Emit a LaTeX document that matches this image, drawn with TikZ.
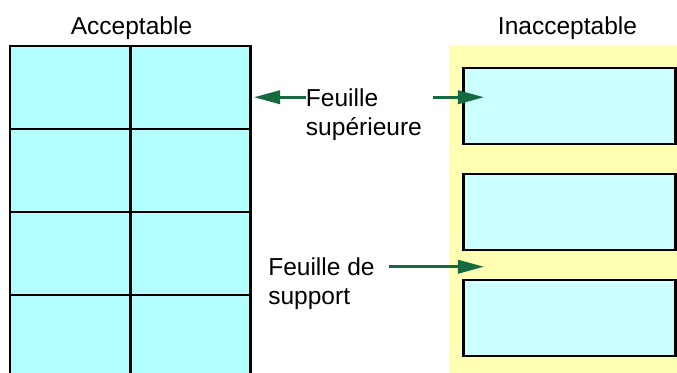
\documentclass[tikz,border=0pt]{standalone}
\usepackage{fontspec}
\setmainfont{Liberation Sans}
\usetikzlibrary{arrows.meta,positioning,calc}
\definecolor{cellcyan}{HTML}{B3FFFF}
\definecolor{labelcyan}{HTML}{CCFFFF}
\definecolor{backyellow}{HTML}{FFFFB3}
\definecolor{arrowgreen}{HTML}{156A40}
\tikzset{
  flow/.style={-{Triangle[length=19.5pt,width=10pt]},draw=arrowgreen,line width=2pt},
  cell/.style={draw=black,fill=cellcyan,line width=2pt,
    minimum width=90.3pt,minimum height=62.25pt,inner sep=0pt},
  labelbox/.style={draw=black,fill=labelcyan,line width=2pt,
    minimum width=159.3pt,minimum height=57pt,inner sep=0pt},
  panel/.style={fill=backyellow,minimum width=173.25pt,minimum height=247.5pt,inner sep=0pt},
  caption/.style={font=\fontsize{18.4}{22}\selectfont,inner sep=0pt},
}
\begin{document}
\begin{tikzpicture}[x=0.75pt,y=-0.75pt]
\useasboundingbox (0,0) rectangle (677,372);
\clip (0,0) rectangle (677,372);
\node[caption,anchor=base] (acc) at (131.5,34) {Acceptable};
\foreach \r/\y in {1/87.5,2/170.5,3/253.5,4/336.5}
  \foreach \c/\x in {1/70.2,2/190.5}
    \node[cell] (c-\r-\c) at (\x,\y) {};
\node[panel] (backing) at (564.5,210) {};
\node[caption,anchor=base] (inacc) at (567.5,34) {Inacceptable};
\foreach \n/\y in {1/106,2/212,3/318}
  \node[labelbox] (lab\n) at (569.5,\y) {};
\node[caption,anchor=base west] (topa) at (305.7,106) {Feuille};
\node[caption,anchor=base west] (topb) at (305.7,135) {supérieure};
\node[caption,anchor=base west] (suppa) at (268,275.5) {Feuille de};
\node[caption,anchor=base west] (suppb) at (268,304.5) {support};
\draw[flow] (topa.west) -- ($(topa.west -| c-1-2.east)+(2,0)$);
\draw[flow] ($(topa.west -| topb.east)+(11,0)$) -- ($(topa.west -| lab1.west)+(22,0)$);
\draw[flow] ($(suppa.east)+(14,0)$) -- ($(suppa.east -| lab2.west)+(22,0)$);
\end{tikzpicture}
\end{document}
